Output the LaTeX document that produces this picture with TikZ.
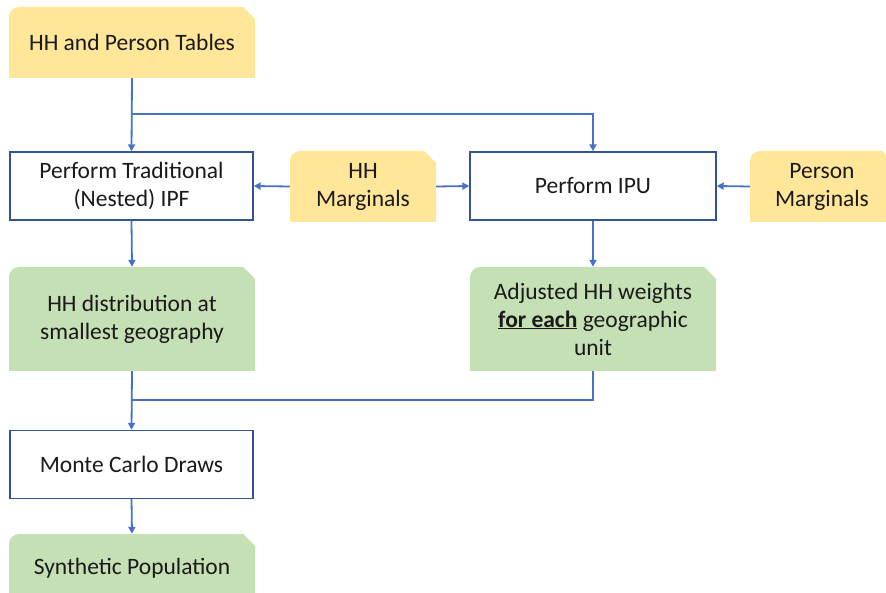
\documentclass[tikz,border=0pt]{standalone}
\usepackage{fontspec}
\setmainfont{Carlito}
\usetikzlibrary{arrows.meta,calc}
\definecolor{ylw}{HTML}{FFE699}
\definecolor{grn}{HTML}{C5E0B4}
\definecolor{lnblue}{HTML}{4472C4}
\definecolor{bxblue}{HTML}{2F5597}
\definecolor{txt}{HTML}{1A1A1A}
\tikzset{
  base/.style={inner sep=0pt, align=center, text=txt, font=\fontsize{23.5}{28}\selectfont},
  snipbox/.style={base, minimum width=246pt, minimum height=71pt,
    path picture={
      \fill[#1] (path picture bounding box.south west)
        -- ([yshift=-10pt]path picture bounding box.north west)
        arc[start angle=180,end angle=90,radius=10pt]
        -- ([xshift=-12pt]path picture bounding box.north east)
        -- ([yshift=-12pt]path picture bounding box.north east)
        -- (path picture bounding box.south east) -- cycle;
    }},
  plainbox/.style={base, draw=bxblue, line width=1.4pt, fill=white, minimum width=243pt, minimum height=68pt},
  conn/.style={draw=lnblue, line width=1.8pt},
  arr/.style={conn, -{Triangle[length=7pt,width=7pt]}},
}
\begin{document}
\begin{tikzpicture}[x=1pt,y=-1pt]
\useasboundingbox (0,0) rectangle (886,593);
\clip (0,0) rectangle (886,593);
\node[snipbox=ylw] (hh) at (132,42.5) {HH and Person Tables};
\node[plainbox] (ipf) at (131.5,186) {Perform Traditional\\(Nested) IPF};
\node[snipbox=ylw, minimum width=146pt] (hhm) at (363,186.5) {HH\\Marginals};
\node[plainbox, minimum width=246pt] (ipu) at (593,186) {Perform IPU};
\node[snipbox=ylw, minimum width=144pt] (pm) at (822,186.5) {Person\\Marginals};
\node[snipbox=grn, minimum height=104pt] (hhd) at (132,319) {HH distribution at\\smallest geography};
\node[snipbox=grn, minimum height=104pt] (adj) at (593,319) {Adjusted HH weights\\\underline{\textbf{for each}} geographic\\unit};
\node[plainbox] (mc) at (131.5,464.5) {Monte Carlo Draws};
\node[snipbox=grn, minimum height=71pt] (syn) at (132,569.5) {\raisebox{7pt}{Synthetic Population}};
\coordinate (j1) at (132,114);
\coordinate (j2) at (132,400);
\draw[arr] (hh.south) -- (ipf.north);
\draw[arr] (j1) -| (ipu.north);
\draw[arr] (hhm.west) -- (ipf.east);
\draw[arr] (hhm.east) -- (ipu.west);
\draw[arr] (pm.west) -- (ipu.east);
\draw[arr] (ipf.south) -- (hhd.north);
\draw[arr] (ipu.south) -- (adj.north);
\draw[arr] (hhd.south) -- (mc.north);
\draw[conn] (adj.south) |- (j2);
\draw[arr] (mc.south) -- (syn.north);
\end{tikzpicture}
\end{document}
